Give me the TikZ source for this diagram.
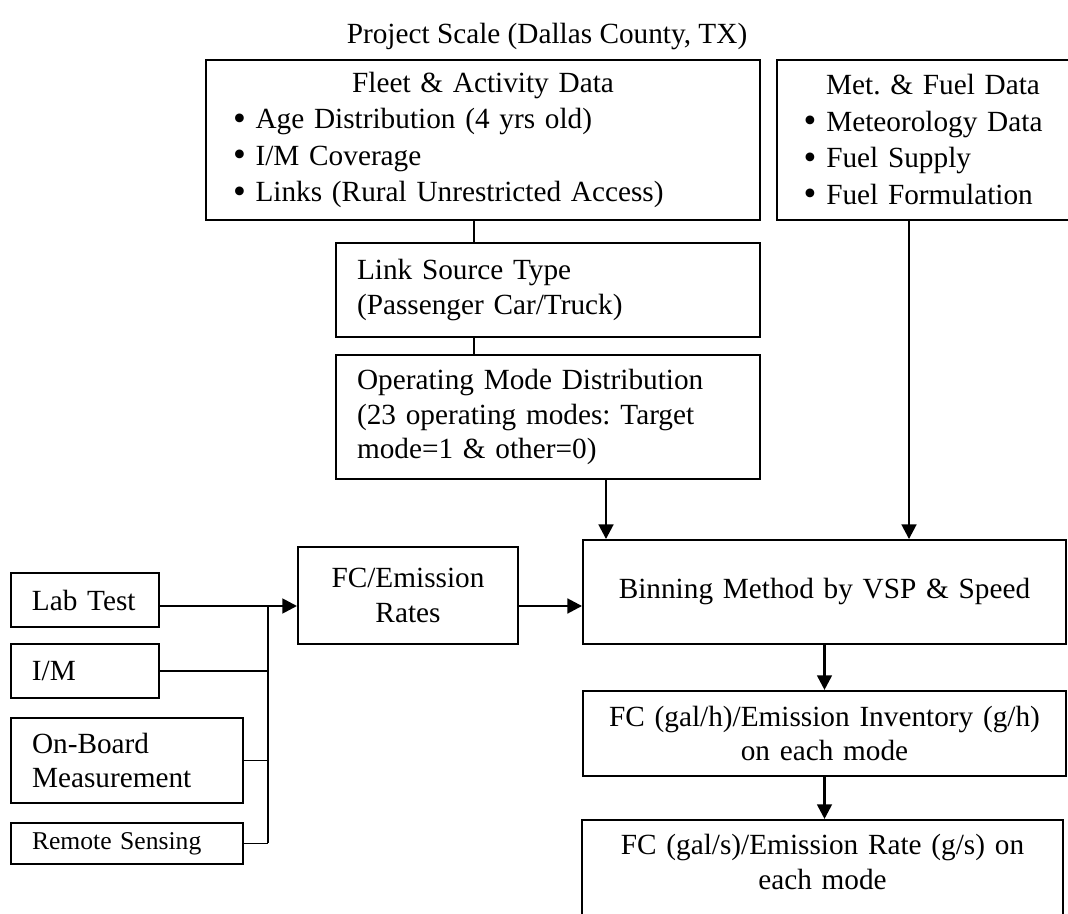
\documentclass[tikz,border=0pt]{standalone}
\usepackage{fontspec}
\setmainfont{Liberation Serif}
\usetikzlibrary{positioning, arrows.meta, calc}

\newcommand{\bul}{\raisebox{-0.6pt}{\fontsize{15}{15}\selectfont\textbullet}\hspace{4pt}}

\begin{document}
\frenchspacing
\begin{tikzpicture}[
  x=0.41pt, y=-0.41pt,
  font=\fontsize{12}{14}\selectfont,
  box/.style={draw, line width=0.8pt, inner xsep=8.6pt, inner ysep=0pt},
  lbox/.style={box, align=left},
  cbox/.style={box, align=center},
  list/.style={box, inner xsep=11pt, font=\fontsize{12}{15}\selectfont},
  wire/.style={line width=0.8pt},
  arr/.style={line width=1.1pt, -{Triangle[length=6pt, width=6pt]}},
]
  \useasboundingbox (0,0) rectangle (1068,914);

  \node (title) at (547,37) {Project Scale (Dallas County, TX)};

  % input data boxes
  \node[list, text width=205pt, minimum height=65.6pt] (fleet) at (483,140)
    {\centering Fleet \& Activity Data\par
     \raggedright
     \bul Age Distribution (4 yrs old)\\
     \bul I/M Coverage\\
     \bul Links (Rural Unrestricted Access)};
  \node[list, text width=106pt, minimum height=65.6pt] (met) at (933,140)
    {\centering Met.\ \& Fuel Data\par
     \raggedright
     \bul Meteorology Data\\
     \bul Fuel Supply\\
     \bul Fuel Formulation};

  \node[lbox, text width=156.6pt, minimum height=38.5pt] (src) at (548,290)
    {Link Source Type\\(Passenger Car/Truck)};
  \node[lbox, text width=156.6pt, minimum height=50.8pt] (opmode) at (548,417)
    {Operating Mode Distribution\\(23 operating modes: Target\\mode=1 \& other=0)};

  % rate sources on the left
  \node[lbox, text width=43.5pt, minimum height=22.1pt] (lab) at (85,600) {Lab Test};
  \node[lbox, text width=43.5pt, minimum height=22.1pt] (im) at (85,671) {I/M};
  \node[lbox, text width=77.9pt, minimum height=34.9pt] (obm) at (127,760.5)
    {On-Board\\Measurement};
  \node[lbox, text width=77.9pt, minimum height=16.8pt,
        font=\fontsize{10.5}{12}\selectfont] (rs) at (127,843.5) {Remote Sensing};

  \node[cbox, text width=73pt, minimum height=39.8pt] (rates) at (408,595.5)
    {FC/Emission\\Rates};

  % binning and results
  \node[cbox, text width=180.8pt, minimum height=42.6pt] (bin) at (824.5,592)
    {Binning Method by VSP \& Speed};
  \node[cbox, text width=180.8pt, minimum height=34.9pt] (inv) at (824.5,733.5)
    {FC (gal/h)/Emission Inventory (g/h)\\on each mode};
  \node[cbox, text width=180pt, anchor=north, inner ysep=6pt] (rate) at (822.5,819)
    {FC (gal/s)/Emission Rate (g/s) on\\each mode\rule[-25pt]{0pt}{25pt}};

  \coordinate (tap) at (268,606);

  % connectors
  \draw[wire] ($(fleet.south)+(-9,0)$) -- ($(src.north)+(-74,0)$);
  \draw[wire] ($(src.south)+(-74,0)$) -- ($(opmode.north)+(-74,0)$);
  \draw[arr] ($(opmode.south)+(58,0)$) -- ($(bin.north)+(-218.5,0)$);
  \draw[arr] ($(met.south)+(-24,0)$) -- ($(bin.north)+(84.5,0)$);

  \draw[arr] (lab.east |- tap) -- (rates.west |- tap);
  \draw[wire] (tap) -- (tap |- rs.east);
  \draw[wire] (im.east) -- (im.east -| tap);
  \draw[wire] (obm.east) -- (obm.east -| tap);
  \draw[wire] (rs.east) -- (rs.east -| tap);
  \draw[arr] (rates.east |- tap) -- (bin.west |- tap);

  \draw[arr] (bin.south) -- (inv.north);
  \draw[arr] (inv.south) -- (inv.south |- rate.north);
\end{tikzpicture}
\end{document}
